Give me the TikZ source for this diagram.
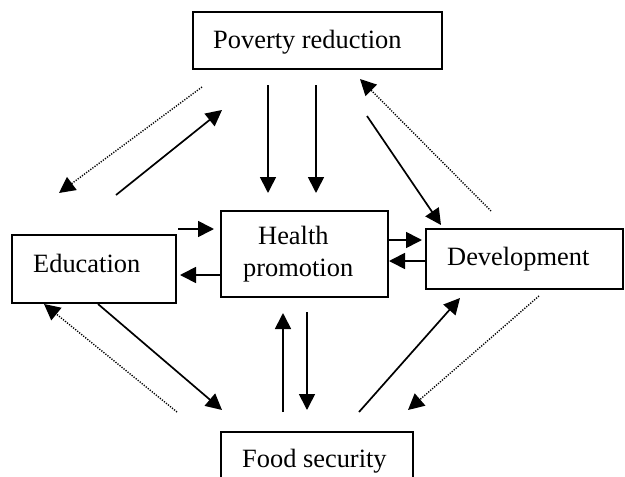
\documentclass[tikz,border=0pt]{standalone}
\usepackage{fontspec}
\setmainfont{Liberation Serif}
\usetikzlibrary{arrows.meta}
\tikzset{
  box/.style={draw, line width=1.6pt, rectangle, inner sep=0pt, fill=white},
  lbl/.style={anchor=base west, inner sep=0pt, font=\fontsize{26.4}{30}\selectfont},
  arr/.style={line width=1.7pt, -{Triangle[length=16pt,width=16pt]}},
  darr/.style={line width=1.4pt, dash pattern=on 1.2pt off 1.4pt, -{Triangle[length=16pt,width=16pt]}}
}
\begin{document}
\begin{tikzpicture}[x=1pt,y=-1pt]
\clip (0,0) rectangle (625,477);
\fill[white] (0,0) rectangle (625,477);
% boxes
\node[box, minimum width=249pt, minimum height=57pt] (pov) at (317.5,40.5) {};
\node[box, minimum width=164pt, minimum height=68pt] (edu) at (94,269) {};
\node[box, minimum width=167pt, minimum height=86pt] (hp) at (304.5,254) {};
\node[box, minimum width=197pt, minimum height=60pt] (dev) at (524.5,259) {};
\node[box, minimum width=192pt, minimum height=80pt] (food) at (317,472) {};
% labels
\node[lbl] (povt) at (213,48) {Poverty reduction};
\node[lbl] (edut) at (33,272) {Education};
\node[lbl] (hpt1) at (258,244) {Health};
\node[lbl] (hpt2) at (243,276) {promotion};
\node[lbl] (devt) at (447,265) {Development};
\node[lbl] (foodt) at (242,467) {Food security};
% arrow end points
\coordinate (a1s) at (268,85);  \coordinate (a1e) at (268,193);
\coordinate (a2s) at (316,85);  \coordinate (a2e) at (316,193);
\coordinate (a3s) at (202,87);  \coordinate (a3e) at (59,193);
\coordinate (a4s) at (116,195); \coordinate (a4e) at (222,110);
\coordinate (a5s) at (367,116); \coordinate (a5e) at (441,225);
\coordinate (a6s) at (491,211); \coordinate (a6e) at (360,79);
\coordinate (a7s) at (178,229); \coordinate (a7e) at (214,229);
\coordinate (a8s) at (221,275); \coordinate (a8e) at (180,275);
\coordinate (a9s) at (388,240); \coordinate (a9e) at (422,240);
\coordinate (a10s) at (426,261); \coordinate (a10e) at (389,261);
\coordinate (a11s) at (307,312); \coordinate (a11e) at (307,410);
\coordinate (a12s) at (283,412); \coordinate (a12e) at (283,313);
\coordinate (a13s) at (98,304);  \coordinate (a13e) at (222,410);
\coordinate (a14s) at (177,412); \coordinate (a14e) at (44,304);
\coordinate (a15s) at (359,412); \coordinate (a15e) at (460,298);
\coordinate (a16s) at (539,296); \coordinate (a16e) at (408,410);
% arrows
\draw[arr] (a1s) -- (a1e);
\draw[arr] (a2s) -- (a2e);
\draw[darr] (a3s) -- (a3e);
\draw[arr] (a4s) -- (a4e);
\draw[arr] (a5s) -- (a5e);
\draw[darr] (a6s) -- (a6e);
\draw[arr] (a7s) -- (a7e);
\draw[arr] (a8s) -- (a8e);
\draw[arr] (a9s) -- (a9e);
\draw[arr] (a10s) -- (a10e);
\draw[arr] (a11s) -- (a11e);
\draw[arr] (a12s) -- (a12e);
\draw[arr] (a13s) -- (a13e);
\draw[darr] (a14s) -- (a14e);
\draw[arr] (a15s) -- (a15e);
\draw[darr] (a16s) -- (a16e);
\end{tikzpicture}
\end{document}
